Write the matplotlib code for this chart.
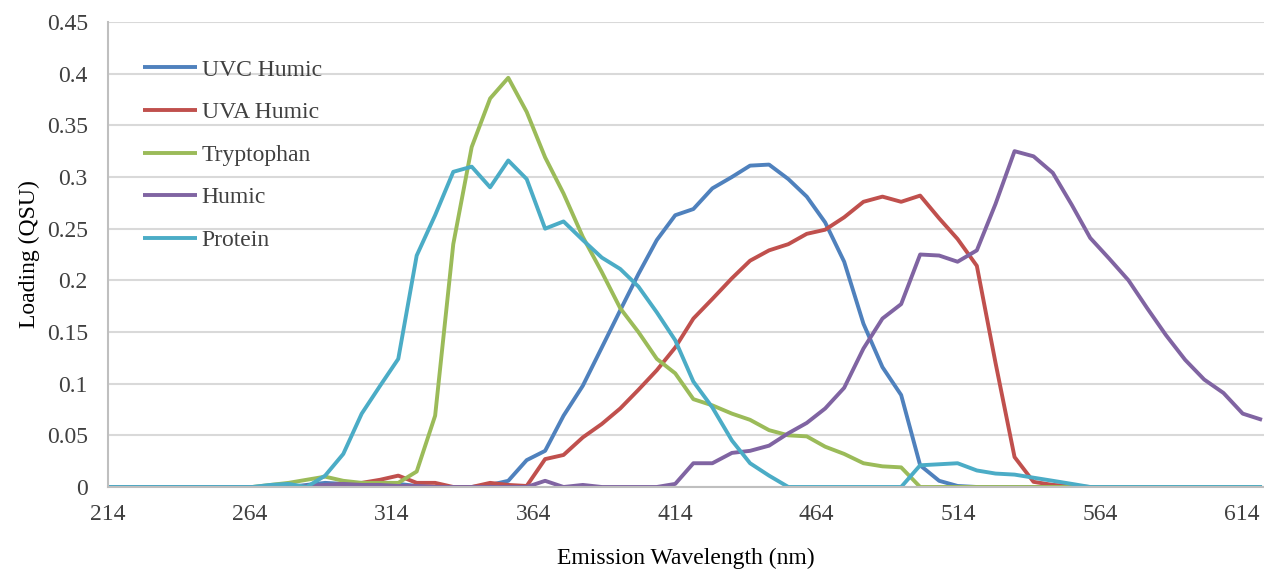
import matplotlib
matplotlib.use("Agg")
import matplotlib.pyplot as plt
from matplotlib.ticker import FuncFormatter, MultipleLocator

wavelength = [214.0, 220.3, 226.7, 233.0, 239.4, 245.8, 252.1, 258.5, 264.9, 271.3,
              277.7, 284.1, 290.6, 297.0, 303.5, 310.0, 316.4, 322.9, 329.4, 335.8,
              342.3, 348.8, 355.2, 361.7, 368.2, 374.7, 381.5, 388.2, 394.7, 401.1,
              407.6, 414.1, 420.5, 427.2, 434.1, 440.5, 447.2, 454.0, 460.5, 467.0,
              473.7, 480.5, 487.2, 493.8, 500.5, 507.2, 513.7, 520.5, 527.1, 533.8,
              540.5, 547.3, 554.0, 560.5, 567.2, 574.0, 580.6, 587.2, 594.0, 600.7,
              607.5, 614.3, 621.1]

uvc_humic = [0, 0, 0, 0, 0, 0, 0, 0, 0, 0,
             0, 0.002, 0.004, 0.003, 0.002, 0.002, 0.003, 0.001, 0, 0,
             0, 0.002, 0.006, 0.026, 0.035, 0.069, 0.098, 0.135, 0.171, 0.206,
             0.239, 0.263, 0.269, 0.289, 0.300, 0.311, 0.312, 0.298, 0.281, 0.256,
             0.218, 0.158, 0.116, 0.089, 0.021, 0.006, 0.001, 0, 0, 0,
             0, 0, 0, 0, 0, 0, 0, 0, 0, 0,
             0, 0, 0]

uva_humic = [0, 0, 0, 0, 0, 0, 0, 0, 0, 0,
             0, 0, 0.001, 0.003, 0.004, 0.007, 0.011, 0.004, 0.004, 0,
             0, 0.004, 0.002, 0.001, 0.027, 0.031, 0.048, 0.061, 0.076, 0.094,
             0.113, 0.135, 0.163, 0.182, 0.202, 0.219, 0.229, 0.235, 0.245, 0.249,
             0.261, 0.276, 0.281, 0.276, 0.282, 0.260, 0.240, 0.214, 0.120, 0.029,
             0.005, 0.002, 0.001, 0, 0, 0, 0, 0, 0, 0,
             0, 0, 0]

tryptophan = [0, 0, 0, 0, 0, 0, 0, 0, 0, 0.002,
              0.004, 0.007, 0.010, 0.006, 0.004, 0.004, 0.004, 0.015, 0.069, 0.235,
              0.329, 0.376, 0.396, 0.363, 0.319, 0.284, 0.242, 0.208, 0.173, 0.150,
              0.124, 0.110, 0.085, 0.079, 0.071, 0.065, 0.055, 0.050, 0.049, 0.039,
              0.032, 0.023, 0.020, 0.019, 0, 0, 0, 0, 0, 0,
              0, 0, 0, 0, 0, 0, 0, 0, 0, 0,
              0, 0, 0]

humic = [0, 0, 0, 0, 0, 0, 0, 0, 0, 0,
         0, 0.001, 0.002, 0.003, 0.002, 0.002, 0.001, 0.001, 0, 0,
         0, 0, 0, 0, 0.006, 0, 0.002, 0, 0, 0,
         0, 0.003, 0.023, 0.023, 0.033, 0.035, 0.040, 0.052, 0.062, 0.076,
         0.096, 0.134, 0.163, 0.177, 0.225, 0.224, 0.218, 0.229, 0.274, 0.325,
         0.320, 0.304, 0.273, 0.241, 0.221, 0.200, 0.173, 0.147, 0.123, 0.104,
         0.091, 0.071, 0.065]

protein = [0, 0, 0, 0, 0, 0, 0, 0, 0, 0.002,
           0.003, 0.0, 0.011, 0.032, 0.071, 0.098, 0.124, 0.224, 0.263, 0.305,
           0.310, 0.290, 0.316, 0.298, 0.250, 0.257, 0.239, 0.222, 0.211, 0.194,
           0.169, 0.142, 0.102, 0.077, 0.045, 0.023, 0.011, 0, 0, 0,
           0, 0, 0, 0, 0.021, 0.022, 0.023, 0.016, 0.013, 0.012,
           0.009, 0.006, 0.003, 0, 0, 0, 0, 0, 0, 0,
           0, 0, 0]

series_names = ["UVC Humic", "UVA Humic", "Tryptophan", "Humic", "Protein"]
series_values = [uvc_humic, uva_humic, tryptophan, humic, protein]
series_colors = ["#4F81BD", "#C0504D", "#9BBB59", "#8064A2", "#4BACC6"]

x_ticks = [214, 264, 314, 364, 414, 464, 514, 564, 614]

plt.rcParams['font.family'] = ['Liberation Serif', 'DejaVu Serif']

fig = plt.figure(figsize=(12.64, 5.71), dpi=100)
ax = fig.add_axes([108 / 1264, 1 - 487 / 571, 1 - 108 / 1264, (487 - 22) / 571])

for name, vals, col in zip(series_names, series_values, series_colors):
    ax.plot(wavelength, vals, color=col, lw=2.8, label=name,
            solid_joinstyle='round', solid_capstyle='butt', clip_on=True)

ax.set_xlim(214, 621.8)
ax.set_ylim(0, 0.45)
ax.set_xticks(x_ticks)
ax.yaxis.set_major_locator(MultipleLocator(0.05))
ax.yaxis.set_major_formatter(FuncFormatter(lambda v, p: "0" if abs(v) < 1e-9 else f"{v:.2f}".rstrip('0')))

ax.grid(axis='y', color='#D9D9D9', lw=1.5)
ax.set_axisbelow(True)
for s in ['top', 'right']:
    ax.spines[s].set_visible(False)
ax.spines['left'].set_color('#BFBFBF')
ax.spines['left'].set_linewidth(1.5)
ax.spines['bottom'].set_color('#BFBFBF')
ax.spines['bottom'].set_linewidth(1.5)

ax.tick_params(axis='both', length=0, labelsize=17, colors='#404040')
ax.tick_params(axis='y', pad=14.5)
ax.tick_params(axis='x', pad=12)

ax.set_ylabel("Loading (QSU)", fontsize=17, color='#000000', labelpad=5)
ax.set_xlabel("Emission Wavelength (nm)", fontsize=17, color='#000000', labelpad=17)

leg = ax.legend(loc='upper left', bbox_to_anchor=(0.030, 0.92), frameon=False,
                fontsize=17, handlelength=2.3, handletextpad=0.2, labelspacing=0.89,
                borderpad=0, borderaxespad=0)
for t in leg.get_texts():
    t.set_color('#404040')

fig.savefig("out.png", dpi=100)
